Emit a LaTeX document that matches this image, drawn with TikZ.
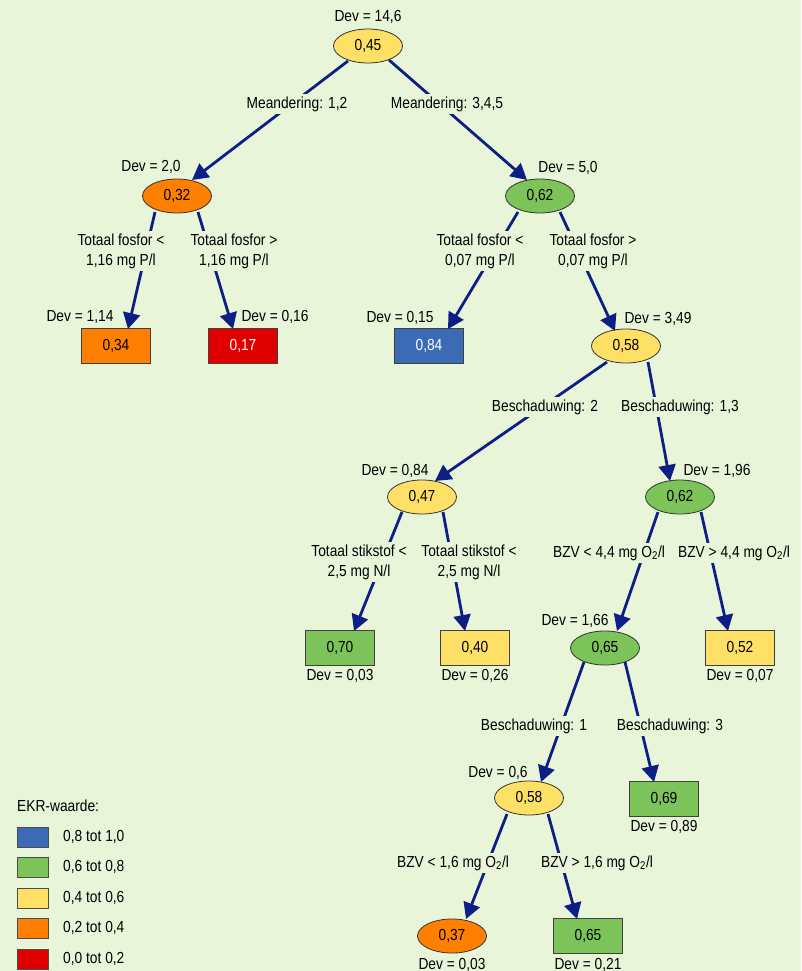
\documentclass[tikz,border=0pt]{standalone}
\usepackage{fontspec}
\setmainfont{Liberation Sans}[FakeStretch=0.86]
\usetikzlibrary{shapes.geometric,arrows.meta,calc}
\definecolor{bg}{HTML}{E8F5D9}
\definecolor{cyel}{HTML}{FFE066}
\definecolor{cora}{HTML}{FF8000}
\definecolor{cred}{HTML}{E00000}
\definecolor{cgrn}{HTML}{7CC35A}
\definecolor{cblu}{HTML}{3B6BB5}
\definecolor{arrowc}{HTML}{0D1F85}
\begin{document}
\begin{tikzpicture}[x=1pt,y=-1pt,font=\fontsize{16}{20}\selectfont,
  ell/.style={ellipse, draw=black!80, line width=0.8pt, minimum width=69pt, minimum height=34pt, inner sep=0pt},
  box/.style={rectangle, draw=black!75, line width=1.2pt, minimum width=69pt, minimum height=35pt, inner sep=0pt},
  arr/.style={draw=arrowc, line width=2.8pt, -{Triangle[length=16pt,width=17pt]}},
  lab/.style={fill=bg, inner sep=3pt, align=center},
  dev/.style={inner sep=0pt},
  swatch/.style={rectangle, draw=black!70, line width=0.8pt, minimum width=31pt, minimum height=20pt, inner sep=0pt}]
\useasboundingbox (0,0) rectangle (801,971);
\fill[bg] (0,0) rectangle (801,971);

% tree nodes
\node[ell, fill=cyel] (root) at (368,46) {0,45};
\node[ell, fill=cora] (a) at (177,196) {0,32};
\node[ell, fill=cgrn] (b) at (540,196) {0,62};
\node[box, fill=cora] (c) at (116,346) {0,34};
\node[box, fill=cred, text=white] (d) at (243,346) {0,17};
\node[box, fill=cblu, text=white] (e) at (429,346) {0,84};
\node[ell, fill=cyel] (f) at (626,346) {0,58};
\node[ell, fill=cyel] (g) at (422,497) {0,47};
\node[ell, fill=cgrn] (h) at (680,497) {0,62};
\node[box, fill=cgrn] (i) at (340,648) {0,70};
\node[box, fill=cyel] (j) at (475,648) {0,40};
\node[ell, fill=cgrn] (k) at (605,648) {0,65};
\node[box, fill=cyel] (l) at (740,648) {0,52};
\node[ell, fill=cyel] (m) at (529,798) {0,58};
\node[box, fill=cgrn] (n) at (664,799) {0,69};
\node[ell, fill=cora] (o) at (452,936) {0,37};
\node[box, fill=cgrn] (p) at (588,936) {0,65};

% connectors
\draw[arr] ($(root)+(-20,15)$) -- ($(a)+(15,-16)$);
\draw[arr] ($(root)+(21,14)$) -- ($(b)+(-13,-16)$);
\draw[arr] ($(a)+(-22,16)$) -- ($(c)+(12,-17)$);
\draw[arr] ($(a)+(21,16)$) -- ($(d)+(-10,-17)$);
\draw[arr] ($(b)+(-22,16)$) -- ($(e)+(19,-17)$);
\draw[arr] ($(b)+(20,16)$) -- ($(f)+(-11,-15)$);
\draw[arr] ($(f)+(-19,16)$) -- ($(g)+(13,-16)$);
\draw[arr] ($(f)+(22,16)$) -- ($(h)+(-10,-16)$);
\draw[arr] ($(g)+(-20,15)$) -- ($(i)+(14,-17)$);
\draw[arr] ($(g)+(21,15)$) -- ($(j)+(-10,-17)$);
\draw[arr] ($(h)+(-22,15)$) -- ($(k)+(12,-17)$);
\draw[arr] ($(h)+(21,15)$) -- ($(l)+(-12,-17)$);
\draw[arr] ($(k)+(-21,14)$) -- ($(m)+(12,-16)$);
\draw[arr] ($(k)+(20,14)$) -- ($(n)+(-10,-17)$);
\draw[arr] ($(m)+(-22,16)$) -- ($(o)+(14,-17)$);
\draw[arr] ($(m)+(19,16)$) -- ($(p)+(-11,-17)$);

% edge labels
\node[lab] (l1) at (297,104) {Meandering: 1,2};
\node[lab] (l2) at (447,104) {Meandering: 3,4,5};
\node[lab] (l3) at (121,251) {Totaal fosfor <\\1,16 mg P/l};
\node[lab] (l4) at (234,251) {Totaal fosfor >\\1,16 mg P/l};
\node[lab] (l5) at (480,251) {Totaal fosfor <\\0,07 mg P/l};
\node[lab] (l6) at (593,251) {Totaal fosfor >\\0,07 mg P/l};
\node[lab] (l7) at (545,407) {Beschaduwing: 2};
\node[lab] (l8) at (680,407) {Beschaduwing: 1,3};
\node[lab] (l9) at (359,562) {Totaal stikstof <\\2,5 mg N/l};
\node[lab] (l10) at (469,562) {Totaal stikstof <\\2,5 mg N/l};
\node[lab] (l11) at (609,553) {BZV < 4,4 mg O\textsubscript{2}/l};
\node[lab] (l12) at (734,553) {BZV > 4,4 mg O\textsubscript{2}/l};
\node[lab] (l13) at (534,726) {Beschaduwing: 1};
\node[lab] (l14) at (670,726) {Beschaduwing: 3};
\node[lab] (l15) at (453,863) {BZV < 1,6 mg O\textsubscript{2}/l};
\node[lab] (l16) at (597,863) {BZV > 1,6 mg O\textsubscript{2}/l};

% deviance labels
\node[dev] (d1) at (368,17) {Dev = 14,6};
\node[dev] (d2) at (151,167) {Dev = 2,0};
\node[dev] (d3) at (568,168) {Dev = 5,0};
\node[dev] (d4) at (80,317) {Dev = 1,14};
\node[dev] (d5) at (275,317) {Dev = 0,16};
\node[dev] (d6) at (400,318) {Dev = 0,15};
\node[dev] (d7) at (658,319) {Dev = 3,49};
\node[dev] (d8) at (395,471) {Dev = 0,84};
\node[dev] (d9) at (717,471) {Dev = 1,96};
\node[dev] (d10) at (575,621) {Dev = 1,66};
\node[dev] (d11) at (340,676) {Dev = 0,03};
\node[dev] (d12) at (475,676) {Dev = 0,26};
\node[dev] (d13) at (740,676) {Dev = 0,07};
\node[dev] (d14) at (498,773) {Dev = 0,6};
\node[dev] (d15) at (664,827) {Dev = 0,89};
\node[dev] (d16) at (452,965) {Dev = 0,03};
\node[dev] (d17) at (588,965) {Dev = 0,21};

% legend
\node[dev, anchor=west] (lt) at (17,806) {EKR-waarde:};
\node[swatch, fill=cblu] (s1) at (32.5,837) {};
\node[swatch, fill=cgrn] (s2) at (32.5,867) {};
\node[swatch, fill=cyel] (s3) at (32.5,898) {};
\node[swatch, fill=cora] (s4) at (32.5,928) {};
\node[swatch, fill=cred] (s5) at (32.5,959) {};
\node[dev, anchor=west] (t1) at (63,837) {0,8 tot 1,0};
\node[dev, anchor=west] (t2) at (63,867) {0,6 tot 0,8};
\node[dev, anchor=west] (t3) at (63,898) {0,4 tot 0,6};
\node[dev, anchor=west] (t4) at (63,928) {0,2 tot 0,4};
\node[dev, anchor=west] (t5) at (63,959) {0,0 tot 0,2};
\end{tikzpicture}
\end{document}
